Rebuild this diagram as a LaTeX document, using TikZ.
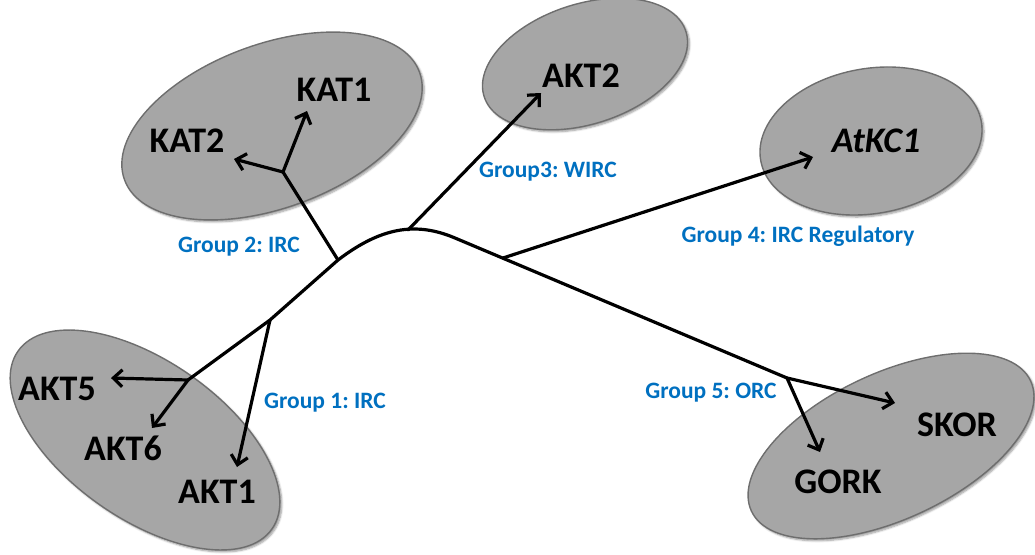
\documentclass[tikz,border=0pt]{standalone}
\usepackage{fontspec}
\setmainfont{Carlito}
\frenchspacing
\usetikzlibrary{shapes.geometric,arrows.meta,shadows.blur}
\definecolor{grpblue}{RGB}{0,112,192}
\definecolor{ellfill}{RGB}{166,166,166}
\definecolor{elldraw}{RGB}{110,110,110}
\begin{document}
\begin{tikzpicture}[x=1pt,y=-1pt,
  grp/.style={ellipse, fill=ellfill, draw=elldraw, line width=1.4pt, inner sep=0pt,
    blur shadow={shadow xshift=2pt, shadow yshift=-2pt, shadow blur steps=6, shadow opacity=40}},
  gene/.style={font=\bfseries\fontsize{36}{38}\selectfont, text=black, inner sep=0pt},
  glabel/.style={font=\bfseries\fontsize{23.5}{25}\selectfont, text=grpblue, inner sep=0pt},
  branch/.style={line width=3.2pt, line join=round, line cap=round},
  arr/.style={branch, -{Straight Barb[length=9pt,width=17pt,line width=3.2pt]}}]
\useasboundingbox (0,0) rectangle (1035,554);
% ellipses
\node[grp, minimum width=310pt, minimum height=158pt, rotate=-35] (e1) at (145,440) {};
\node[grp, minimum width=314pt, minimum height=164pt, rotate=20] (e2) at (272,126) {};
\node[grp, minimum width=212pt, minimum height=120pt, rotate=18] (e3) at (585,64) {};
\node[grp, minimum width=224pt, minimum height=145pt, rotate=10] (e4) at (871,141) {};
\node[grp, minimum width=308pt, minimum height=146pt, rotate=25] (e5) at (891,446) {};
% gene names
\node[gene] (kat1) at (334,90) {KAT1};
\node[gene] (kat2) at (187,141) {KAT2};
\node[gene] (akt2) at (581,76) {AKT2};
\node[gene] (atkc1) at (876,141) {\itshape AtKC1};
\node[gene] (akt5) at (57,389) {AKT5};
\node[gene] (akt6) at (123,448) {AKT6};
\node[gene] (akt1) at (217,492) {AKT1};
\node[gene] (skor) at (957,425) {SKOR};
\node[gene] (gork) at (838,482) {GORK};
% group labels
\node[glabel] (l2) at (239,247) {Group 2: IRC};
\node[glabel] (l3) at (548,172) {Group3: WIRC};
\node[glabel] (l4) at (798,236) {Group 4: IRC Regulatory};
\node[glabel] (l1) at (325,403) {Group 1: IRC};
\node[glabel] (l5) at (711,393) {Group 5: ORC};
% tree coordinates
\coordinate (b5) at (188,380);
\coordinate (b1) at (270,320);
\coordinate (b2) at (338,260);
\coordinate (b3) at (408,230);
\coordinate (b4) at (503,258);
\coordinate (bg5) at (787,378);
\coordinate (bk) at (283,172);
\coordinate (tAKT5) at (111,378);
\coordinate (tAKT6) at (152,428);
\coordinate (tAKT1) at (237,467);
\coordinate (tKAT2) at (234,159);
\coordinate (tKAT1) at (307,111);
\coordinate (tAKT2) at (541,93);
\coordinate (tATKC1) at (813,157);
\coordinate (tSKOR) at (895,403);
\coordinate (tGORK) at (820,452);
% backbone
\draw[branch] (b5) -- (b1) -- (b2) .. controls (380,228) and (415,221) .. (455,238) -- (bg5);
% branches
\draw[arr] (b5) -- (tAKT5);
\draw[arr] (b5) -- (tAKT6);
\draw[arr] (b1) -- (tAKT1);
\draw[branch] (b2) -- (bk);
\draw[arr] (bk) -- (tKAT2);
\draw[arr] (bk) -- (tKAT1);
\draw[arr] (b3) -- (tAKT2);
\draw[arr] (b4) -- (tATKC1);
\draw[arr] (bg5) -- (tSKOR);
\draw[arr] (bg5) -- (tGORK);
\end{tikzpicture}
\end{document}
